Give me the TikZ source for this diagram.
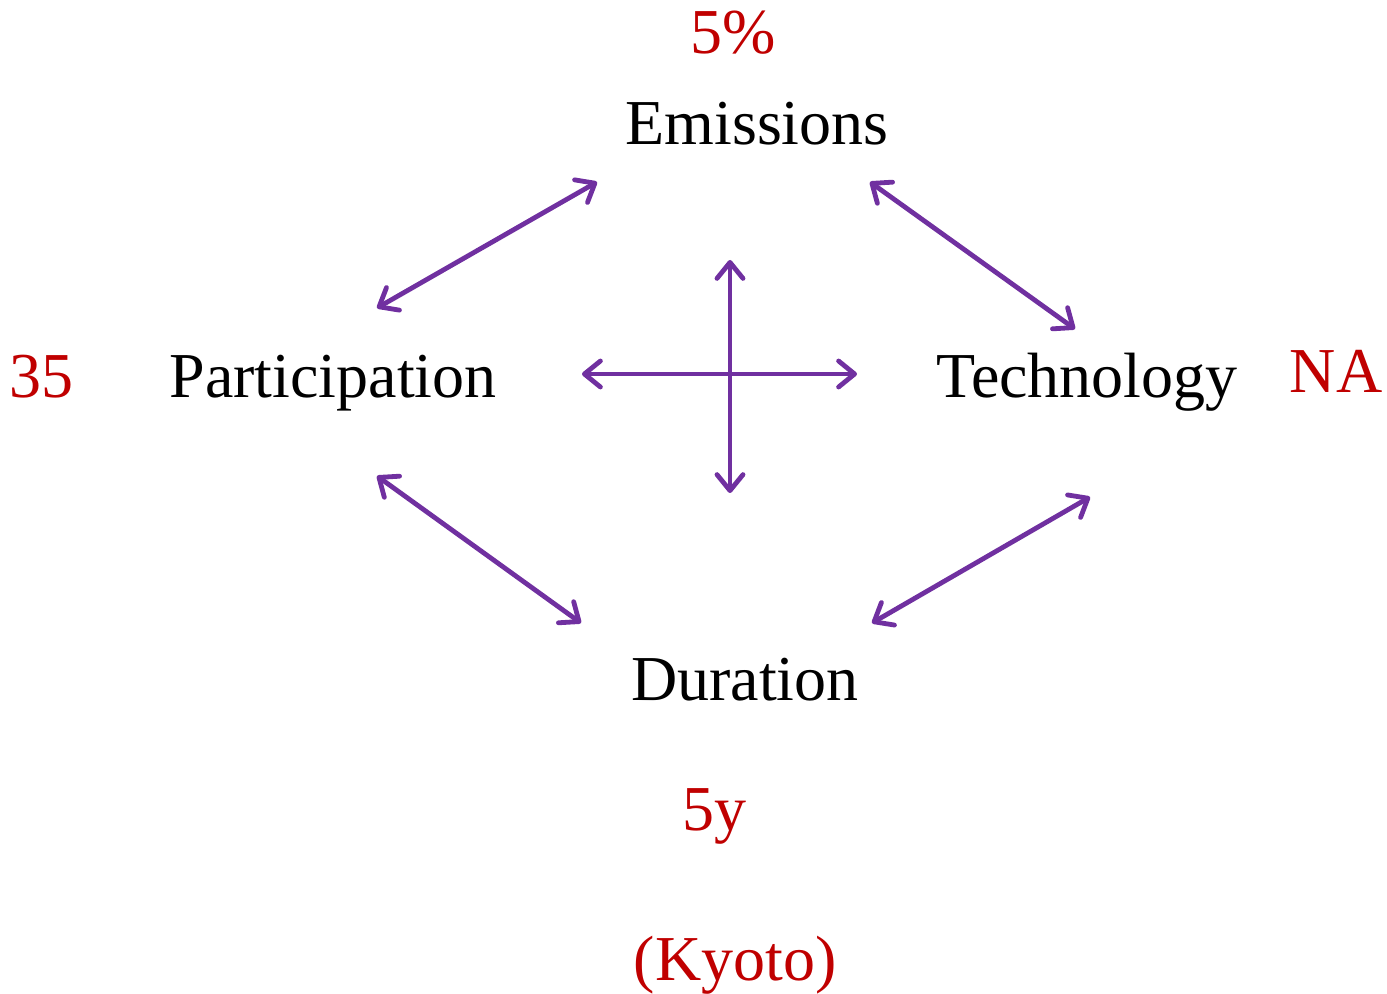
\documentclass[tikz,border=0pt]{standalone}
\usepackage{fontspec}
\setmainfont{Liberation Serif}
\usetikzlibrary{arrows.meta}
\definecolor{arrowpurple}{HTML}{7030A0}
\definecolor{numred}{HTML}{C00000}
\tikzset{
  lbl/.style={anchor=base, inner sep=0pt, font=\fontsize{32}{38}\selectfont},
  val/.style={lbl, text=numred},
  link/.style={draw=arrowpurple, line width=2.4pt, line cap=round,
    {Straight Barb[length=8pt, width=13pt, line cap=round, line join=round]}-{Straight Barb[length=8pt, width=13pt, line cap=round, line join=round]}}
}
\begin{document}
\begin{tikzpicture}[x=0.5pt, y=-0.5pt]
\useasboundingbox (0,0) rectangle (1387,994);
% labels
\node[lbl] (emis) at (757,145) {Emissions};
\node[lbl] (part) at (333,398) {Participation};
\node[lbl] (tech) at (1087,398) {Technology};
\node[lbl] (dur) at (745,700) {Duration};
% values
\node[val] (v5p) at (733,54) {5\%};
\node[val] (v35) at (42,398) {35};
\node[val] (vna) at (1336,393) {NA};
\node[val] (v5y) at (714,830) {5y};
\node[val] (vky) at (735,980) {(Kyoto)};
% arrow endpoints
\coordinate (a1) at (597,182); \coordinate (b1) at (377,308);
\coordinate (a2) at (870,182); \coordinate (b2) at (1075,329);
\coordinate (a3) at (730,260); \coordinate (b3) at (730,493);
\coordinate (a4) at (582,374); \coordinate (b4) at (857,374);
\coordinate (a5) at (377,476); \coordinate (b5) at (581,623);
\coordinate (a6) at (1090,497); \coordinate (b6) at (872,623);
\draw[link] (a1) -- (b1);
\draw[link] (a2) -- (b2);
\draw[link] (a3) -- (b3);
\draw[link] (a4) -- (b4);
\draw[link] (a5) -- (b5);
\draw[link] (a6) -- (b6);
\end{tikzpicture}
\end{document}
